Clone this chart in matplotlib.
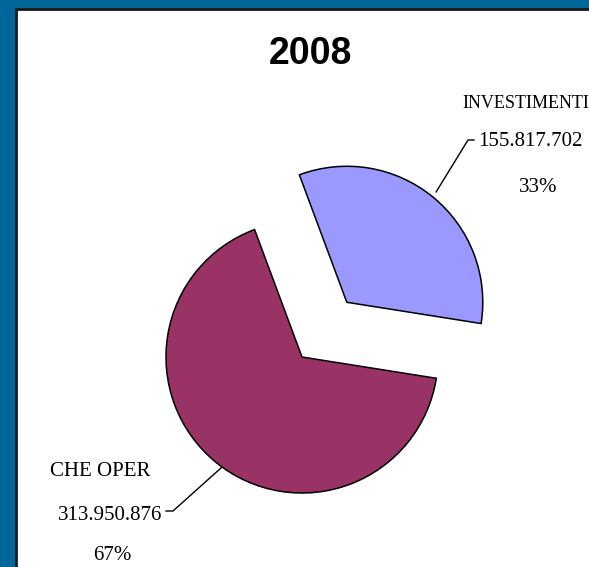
import numpy as np
import matplotlib.pyplot as plt
from matplotlib.patches import Rectangle

# data
labels = ['INVESTIMENTI', 'CHE OPER']
values = [155817702, 313950876]
value_text = ['155.817.702', '313.950.876']
colors = ['#9999FF', '#993366']
title = '2008'

W, H = 589, 567
fig = plt.figure(figsize=(W / 100, H / 100), dpi=100)
fig.patch.set_facecolor('#00679B')

ax = fig.add_axes([0, 0, 1, 1])

# white panel with dark frame
ax.add_patch(Rectangle((16, -5), W, H - 9 + 5, facecolor='white',
                       edgecolor='#1a1a1a', linewidth=2, zorder=0))

cx, cy, r = 302, H - 357, 136
# explode is in data units here (pie is drawn in pixel-like coordinates)
explode = [0.52 * r, 0.0]
wedges, _ = ax.pie(values, colors=colors, explode=explode, startangle=-9,
                   center=(cx, cy), radius=r, frame=True,
                   wedgeprops=dict(edgecolor='black', linewidth=1.1))
ax.set_xlim(0, W)
ax.set_ylim(0, H)
ax.set_aspect('equal')
ax.axis('off')

ax.text(310, H - 54, title, ha='center', va='center', fontsize=27,
        fontweight='bold', family='Liberation Sans')

pct = [v / sum(values) * 100 for v in values]
tf = dict(family='Liberation Serif', fontsize=15, ha='center', va='center')

# INVESTIMENTI label
w = wedges[0]
ang = np.deg2rad(51)
px = w.center[0] + (w.r + 6) * np.cos(ang)
py = w.center[1] + (w.r + 6) * np.sin(ang)
ax.plot([px, 468, 474], [py, H - 140, H - 140], color='black', lw=1)
ax.text(526, H - 103, labels[0], **dict(tf, fontsize=13))
ax.text(530, H - 142, value_text[0], **tf)
ax.text(538, H - 187, f'{pct[0]:.0f}%', **tf)

# CHE OPER label
w = wedges[1]
ang = np.deg2rad(234)
px = w.center[0] + w.r * np.cos(ang)
py = w.center[1] + w.r * np.sin(ang)
ax.plot([px, 173, 166], [py, H - 511, H - 511], color='black', lw=1)
ax.text(100, H - 472, labels[1], **tf)
ax.text(110, H - 515, value_text[1], **tf)
ax.text(112, H - 556, f'{pct[1]:.0f}%', **tf)

fig.savefig('out.png', dpi=100, facecolor=fig.get_facecolor())
